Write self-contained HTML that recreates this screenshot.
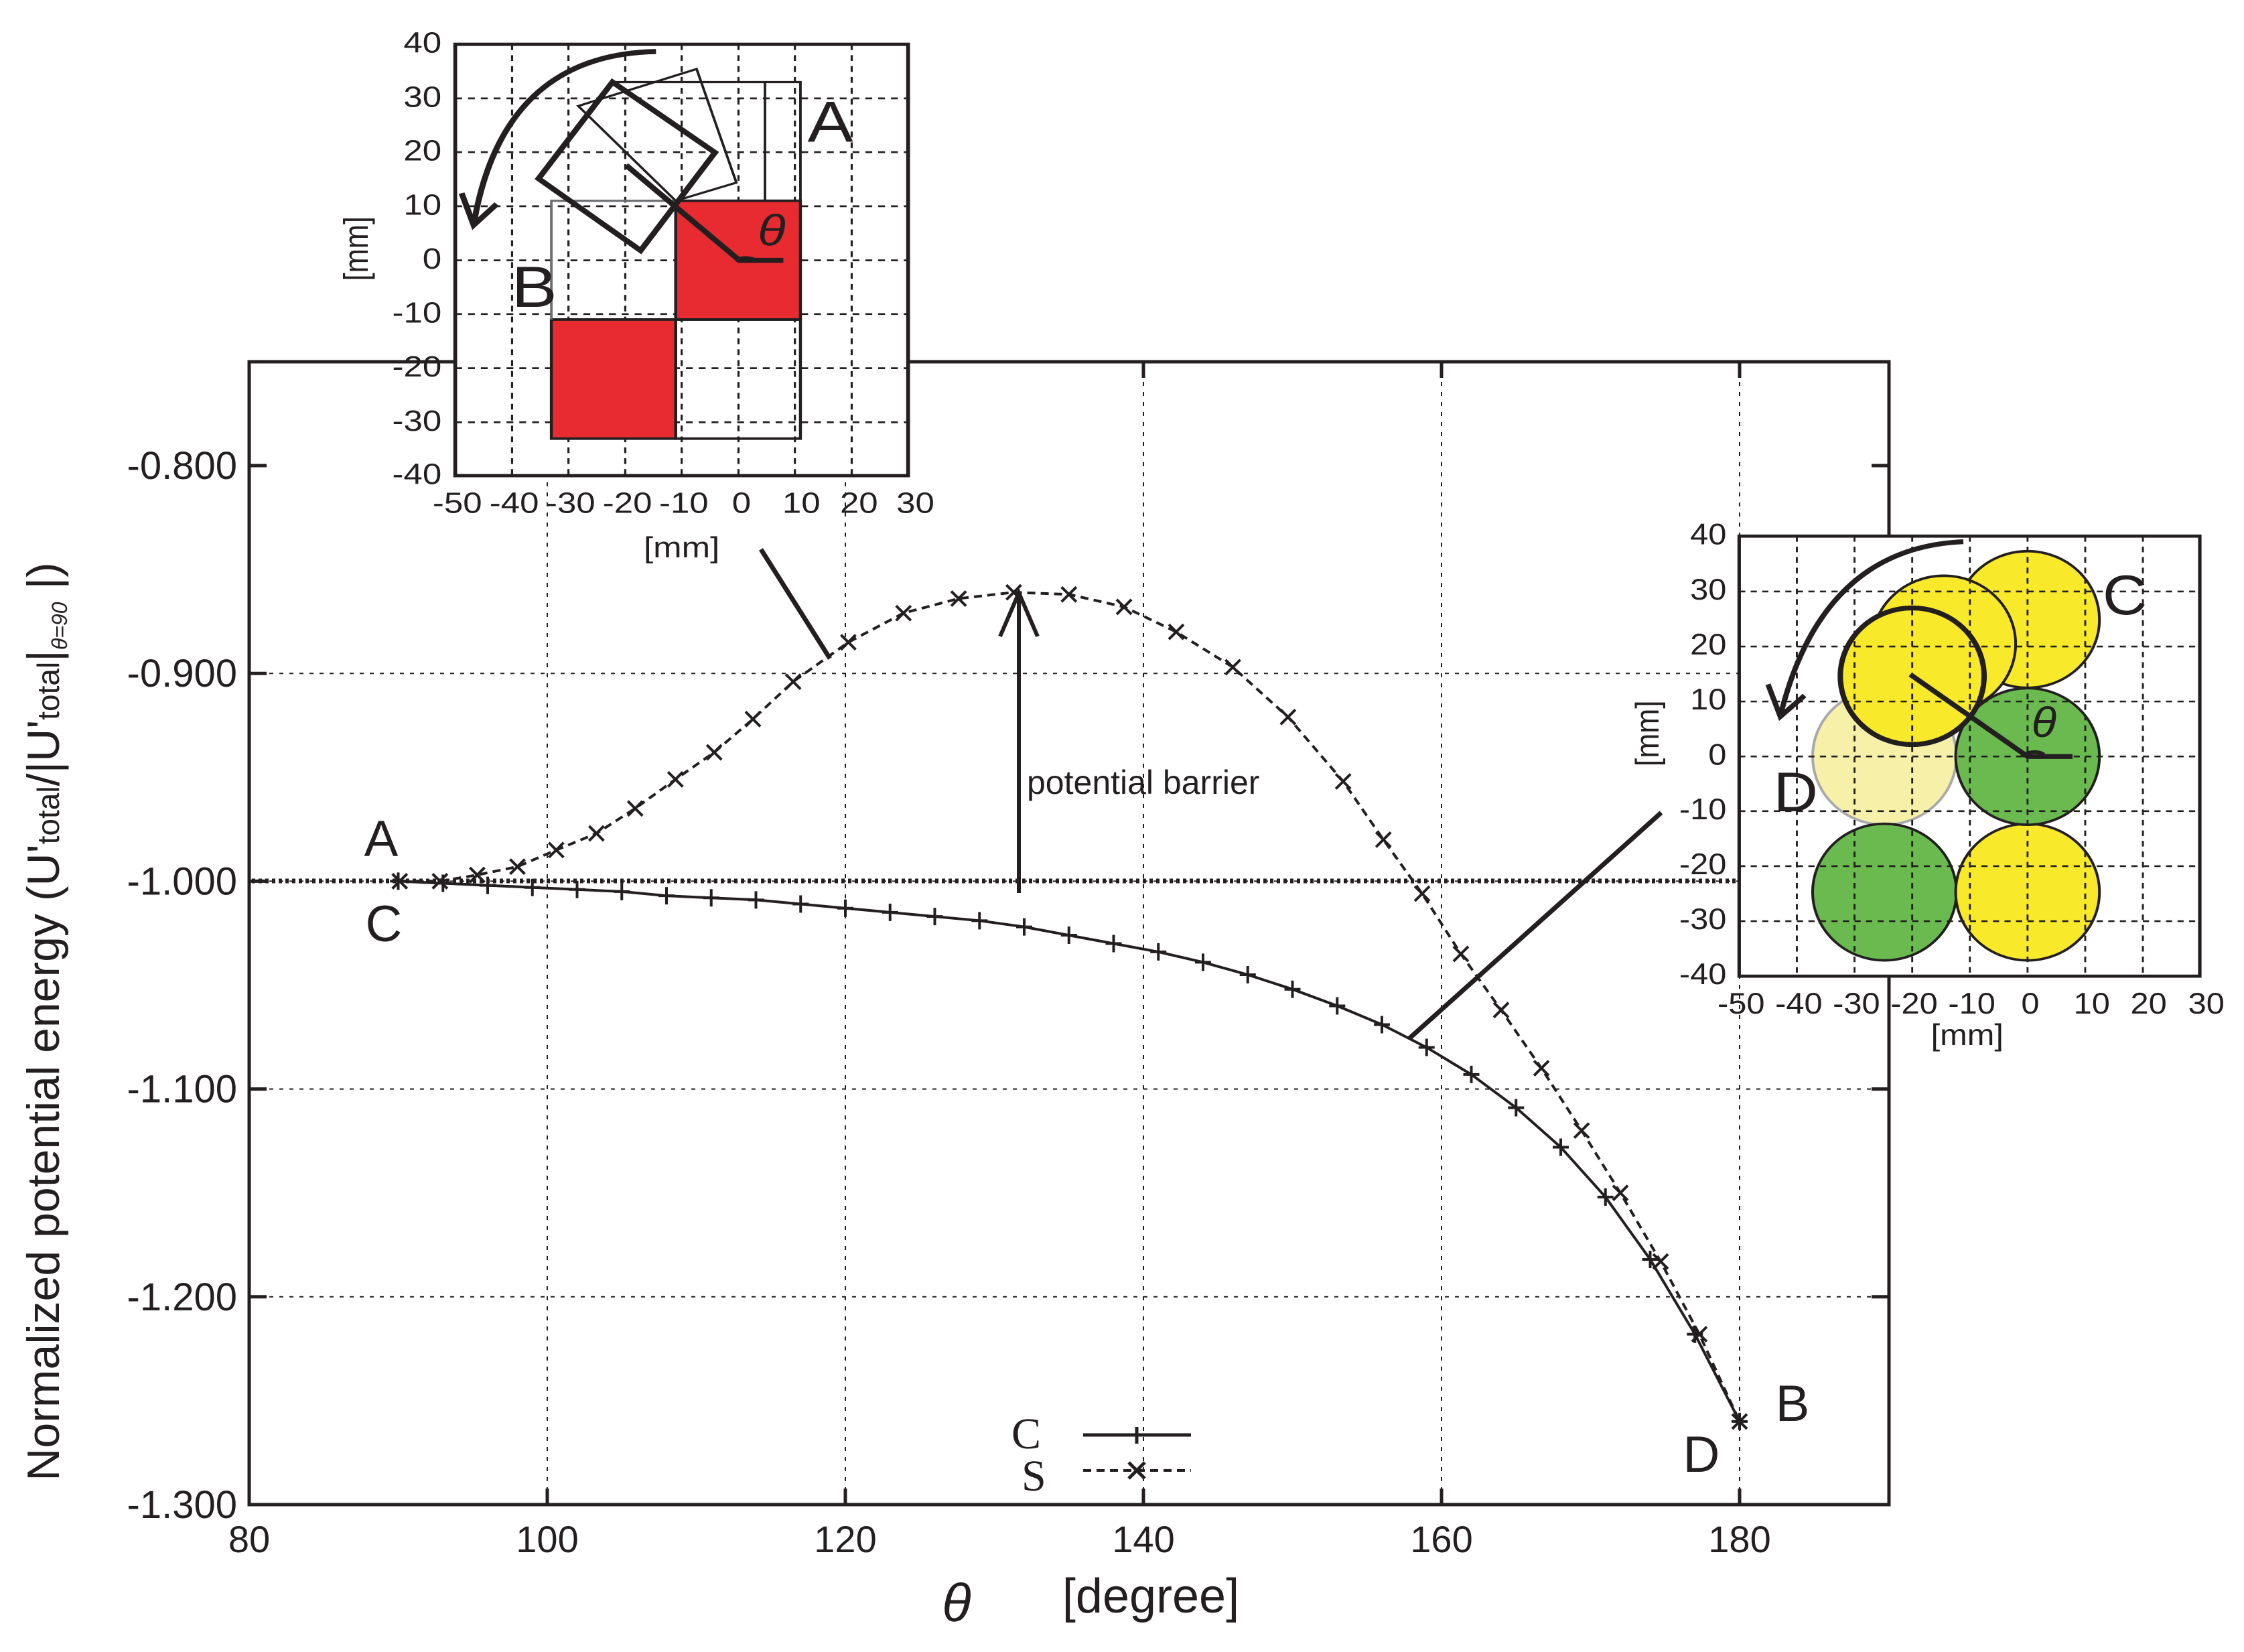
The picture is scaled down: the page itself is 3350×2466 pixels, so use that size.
<!DOCTYPE html>
<html><head><meta charset="utf-8"><style>
html,body{margin:0;padding:0;background:#fff}
svg{display:block}
text{font-family:"Liberation Sans",sans-serif;fill:#231f20}
</style></head><body>
<svg id="chart" width="3350" height="2466" viewBox="0 0 3350 2466" xmlns="http://www.w3.org/2000/svg">
<g id="grid"></g>
<line x1="376" y1="1315" x2="2600" y2="1315" stroke="#231f20" stroke-width="7" stroke-dasharray="5,5"/>
<g id="series"></g>
<rect x="372" y="540" width="2448" height="1706" fill="none" stroke="#231f20" stroke-width="5"/>
<g id="ticks"></g>

<line x1="1136" y1="820" x2="1239" y2="983" stroke="#231f20" stroke-width="7"/>
<line x1="2104" y1="1550" x2="2480" y2="1213" stroke="#231f20" stroke-width="7"/>
<g stroke="#231f20" stroke-width="6" fill="none">
<line x1="1521" y1="1333" x2="1521" y2="890"/>
<polyline points="1493,950 1521,885 1549,950"/>
</g>
<text x="1533" y="1185" font-size="50">potential barrier</text>
<text x="569" y="1278" font-size="76" text-anchor="middle">A</text>
<text x="573" y="1405" font-size="76" text-anchor="middle">C</text>
<text x="2676" y="2121" font-size="76" text-anchor="middle">B</text>
<text x="2540" y="2197" font-size="76" text-anchor="middle">D</text>

<g>
<text x="1510" y="2162" font-size="66" style="font-family:'Liberation Serif',serif">C</text>
<line x1="1617" y1="2142" x2="1778" y2="2142" stroke="#231f20" stroke-width="5"/>
<line x1="1697" y1="2130" x2="1697" y2="2155" stroke="#231f20" stroke-width="5"/>
<text x="1525" y="2225" font-size="66" style="font-family:'Liberation Serif',serif">S</text>
<line x1="1617" y1="2195" x2="1778" y2="2195" stroke="#231f20" stroke-width="4" stroke-dasharray="12,8"/>
<path d="M1685,2183 L1709,2207 M1685,2207 L1709,2183" stroke="#231f20" stroke-width="5"/>
</g>

<text x="1428" y="2420" font-size="80" font-style="italic" text-anchor="middle">θ</text>
<text x="1718" y="2407" font-size="72" text-anchor="middle">[degree]</text>
<text transform="translate(88,1525) rotate(-90)" font-size="68" text-anchor="middle">Normalized potential energy (U'<tspan font-size="46">total</tspan>/|U'<tspan font-size="46">total</tspan>|<tspan font-size="32" dy="12" font-style="italic">θ=90</tspan><tspan dy="-12"> |)</tspan></text>

<g transform="translate(450,0) scale(0.6378,0.542)">
<rect x="360" y="122" width="1060" height="1188" fill="#fff"/>
<g stroke="#231f20" stroke-width="5" stroke-dasharray="16,14" fill="none">
<path d="M493,122V1310M625,122V1310M758,122V1310M890,122V1310M1023,122V1310M1155,122V1310M1288,122V1310"/>
<path d="M360,271H1420M360,419H1420M360,568H1420M360,717H1420M360,865H1420M360,1014H1420M360,1163H1420"/>
</g>
<rect x="876" y="553" width="292" height="327" fill="#e82b31" stroke="#231f20" stroke-width="7"/>
<rect x="585" y="880" width="291" height="328" fill="#e82b31" stroke="#231f20" stroke-width="7"/>
<rect x="876" y="880" width="292" height="328" fill="none" stroke="#231f20" stroke-width="7"/>
<path d="M585,880V553H876" fill="none" stroke="#6d6e71" stroke-width="6"/>
<g stroke="#231f20" stroke-width="6" fill="none">
<path d="M730,226H1168V553M1085,226V553"/>
<polygon points="648,292 925,190 1018,503 876,553"/>
</g>
<polygon points="728,226 968,420 794,690 555,492" fill="none" stroke="#231f20" stroke-width="14"/>
<path d="M760,455L1025,717H1128" fill="none" stroke="#231f20" stroke-width="14"/>
<path d="M1015,717 A40,30 0 0 1 1060,715" fill="none" stroke="#231f20" stroke-width="10"/>
<path d="M830,142 Q470,150 403,620" fill="none" stroke="#231f20" stroke-width="14"/>
<polyline points="375,532 403,620 457,562" fill="none" stroke="#231f20" stroke-width="14"/>
<rect x="360" y="122" width="1060" height="1188" fill="none" stroke="#231f20" stroke-width="9"/>
<text x="1068" y="675" font-size="120" font-style="italic">θ</text>
<text x="1238" y="390" font-size="160" text-anchor="middle">A</text>
<text x="545" y="845" font-size="160" text-anchor="middle">B</text>
<g font-size="80" text-anchor="end">
<text x="328" y="145">40</text><text x="328" y="294">30</text><text x="328" y="442">20</text><text x="328" y="591">10</text><text x="328" y="740">0</text><text x="328" y="888">-10</text><text x="328" y="1037">-20</text><text x="328" y="1186">-30</text><text x="328" y="1333">-40</text>
</g>
<g font-size="80" text-anchor="middle">
<text x="365" y="1412">-50</text><text x="498" y="1412">-40</text><text x="630" y="1412">-30</text><text x="763" y="1412">-20</text><text x="895" y="1412">-10</text><text x="1030" y="1412">0</text><text x="1170" y="1412">10</text><text x="1305" y="1412">20</text><text x="1437" y="1412">30</text>
</g>
<text x="890" y="1535" font-size="80" text-anchor="middle">[mm]</text>
<text transform="translate(155,685) rotate(-90)" font-size="80" text-anchor="middle">[mm]</text>
</g>

<g transform="translate(2450,760) scale(0.574,0.523)">
<rect x="255" y="77" width="1198" height="1256" fill="#fff"/>
<ellipse cx="633" cy="706" rx="187" ry="195" fill="#f7f0a8" stroke="#a7a9ac" stroke-width="7"/>
<ellipse cx="633" cy="1093" rx="187" ry="195" fill="#6aba4f" stroke="#231f20" stroke-width="7"/>
<ellipse cx="1005" cy="1093" rx="187" ry="195" fill="#f8e92a" stroke="#231f20" stroke-width="7"/>
<ellipse cx="1005" cy="315" rx="187" ry="195" fill="#f8e92a" stroke="#231f20" stroke-width="7"/>
<ellipse cx="1005" cy="706" rx="187" ry="195" fill="#6aba4f" stroke="#231f20" stroke-width="7"/>
<ellipse cx="787" cy="385" rx="187" ry="195" fill="#f8e92a" stroke="#231f20" stroke-width="7"/>
<ellipse cx="705" cy="477" rx="187" ry="195" fill="#f8e92a" stroke="#231f20" stroke-width="14"/>
<g stroke="#231f20" stroke-width="5" stroke-dasharray="16,14" fill="none">
<path d="M405,77V1333M555,77V1333M705,77V1333M855,77V1333M1005,77V1333M1155,77V1333M1305,77V1333"/>
<path d="M255,235H1453M255,392H1453M255,549H1453M255,706H1453M255,862H1453M255,1019H1453M255,1176H1453"/>
</g>
<path d="M700,472L1005,706H1122" fill="none" stroke="#231f20" stroke-width="14"/>
<path d="M990,706 A40,30 0 0 1 1048,700" fill="none" stroke="#231f20" stroke-width="10"/>
<path d="M838,93 Q470,110 362,590" fill="none" stroke="#231f20" stroke-width="14"/>
<polyline points="330,500 362,592 425,532" fill="none" stroke="#231f20" stroke-width="14"/>
<rect x="255" y="77" width="1198" height="1256" fill="none" stroke="#231f20" stroke-width="9"/>
<text x="1015" y="650" font-size="120" font-style="italic">θ</text>
<text x="1258" y="300" font-size="160" text-anchor="middle">C</text>
<text x="402" y="862" font-size="160" text-anchor="middle">D</text>
<g font-size="85" text-anchor="end">
<text x="222" y="100">40</text><text x="222" y="258">30</text><text x="222" y="415">20</text><text x="222" y="572">10</text><text x="222" y="729">0</text><text x="222" y="885">-10</text><text x="222" y="1042">-20</text><text x="222" y="1199">-30</text><text x="222" y="1356">-40</text>
</g>
<g font-size="85" text-anchor="middle">
<text x="260" y="1440">-50</text><text x="410" y="1440">-40</text><text x="560" y="1440">-30</text><text x="710" y="1440">-20</text><text x="860" y="1440">-10</text><text x="1012" y="1440">0</text><text x="1172" y="1440">10</text><text x="1320" y="1440">20</text><text x="1470" y="1440">30</text>
</g>
<text x="848" y="1530" font-size="85" text-anchor="middle">[mm]</text>
<text transform="translate(45,640) rotate(-90)" font-size="85" text-anchor="middle">[mm]</text>
</g>
</svg>
<script>
const xTicks = [80, 100, 120, 140, 160, 180];
const yTicks = [-0.8, -0.9, -1.0, -1.1, -1.2, -1.3];
const yTickLabels = ["-0.800", "-0.900", "-1.000", "-1.100", "-1.200", "-1.300"];
const cTheta = [90,93,96,99,102,105,108,111,114,117,120,123,126,129,132,135,138,141,144,147,150,153,156,159,162,165,168,171,174,177,180];
const cValues = [-1.000,-1.001,-1.002,-1.003,-1.004,-1.005,-1.007,-1.008,-1.009,-1.011,-1.013,-1.015,-1.017,-1.019,-1.022,-1.026,-1.030,-1.034,-1.039,-1.045,-1.052,-1.060,-1.069,-1.080,-1.093,-1.109,-1.128,-1.152,-1.182,-1.218,-1.260];
const sTheta = [90.1,92.8,95.3,98,100.6,103.3,105.9,108.6,111.2,113.8,116.5,120.2,123.9,127.6,131.3,135,138.7,142.2,146,149.7,153.4,156.1,158.7,161.3,164,166.7,169.4,172,174.7,177.3,180];
const sValues = [-1.000,-1.000,-0.997,-0.993,-0.985,-0.977,-0.965,-0.951,-0.938,-0.922,-0.904,-0.885,-0.871,-0.864,-0.861,-0.862,-0.868,-0.880,-0.897,-0.921,-0.952,-0.980,-1.006,-1.035,-1.062,-1.090,-1.120,-1.150,-1.183,-1.218,-1.260];

const NS = "http://www.w3.org/2000/svg";
const X0 = 372, X1 = 2820, Y0 = 540, Y1 = 2246;
function xs(v){ return 372 + (v - 80) * 22.25; }
function ys(v){ return 695 + (-0.8 - v) * 3102; }
function mk(tag, attrs, parent){
  const e = document.createElementNS(NS, tag);
  for (const k in attrs) e.setAttribute(k, attrs[k]);
  parent.appendChild(e); return e;
}
const grid = document.getElementById('grid');
const ticks = document.getElementById('ticks');
const series = document.getElementById('series');

xTicks.forEach(function(t){
  const x = xs(t);
  if (t > 80) {
    const g = mk('line', {x1:x, y1:Y0, x2:x, y2:Y1, stroke:'#231f20', 'stroke-width':2, 'stroke-dasharray':'6,9'}, grid);
    
    
  }
  mk('line', {x1:x, y1:Y1, x2:x, y2:Y1-24, stroke:'#231f20', 'stroke-width':5}, ticks);
  mk('line', {x1:x, y1:Y0, x2:x, y2:Y0+24, stroke:'#231f20', 'stroke-width':5}, ticks);
  const tl = mk('text', {x:x, y:2317, 'font-size':56, 'text-anchor':'middle'}, ticks);
  tl.textContent = String(t);
  
  
});
yTicks.forEach(function(t, i){
  const y = ys(t);
  if (i > 0 && i < yTicks.length - 1) {
    const g = mk('line', {x1:X0, y1:y, x2:X1, y2:y, stroke:'#231f20', 'stroke-width':2, 'stroke-dasharray':'6,9'}, grid);
    
    
  }
  mk('line', {x1:X0, y1:y, x2:X0+26, y2:y, stroke:'#231f20', 'stroke-width':5}, ticks);
  mk('line', {x1:X1, y1:y, x2:X1-26, y2:y, stroke:'#231f20', 'stroke-width':5}, ticks);
  const tl = mk('text', {x:354, y:y+20, 'font-size':58, 'text-anchor':'end'}, ticks);
  tl.textContent = yTickLabels[i];
  
  
});

function pts(th, vals){ return th.map(function(t,i){ return xs(t).toFixed(1)+','+ys(vals[i]).toFixed(1); }).join(' '); }
const lc = mk('polyline', {points:pts(cTheta, cValues), fill:'none', stroke:'#231f20', 'stroke-width':4}, series);


const ls = mk('polyline', {points:pts(sTheta, sValues), fill:'none', stroke:'#231f20', 'stroke-width':4, 'stroke-dasharray':'12,8'}, series);


cTheta.forEach(function(t, i){
  const x = xs(t), y = ys(cValues[i]);
  const m = mk('path', {d:'M'+(x-12)+','+y+'H'+(x+12)+'M'+x+','+(y-13)+'V'+(y+13), stroke:'#231f20', 'stroke-width':4}, series);
  
  
});
sTheta.forEach(function(t, i){
  const x = xs(t), y = ys(sValues[i]);
  const m = mk('path', {d:'M'+(x-11)+','+(y-11)+'L'+(x+11)+','+(y+11)+'M'+(x-11)+','+(y+11)+'L'+(x+11)+','+(y-11), stroke:'#231f20', 'stroke-width':4}, series);
  
  
});
</script>
</body></html>
